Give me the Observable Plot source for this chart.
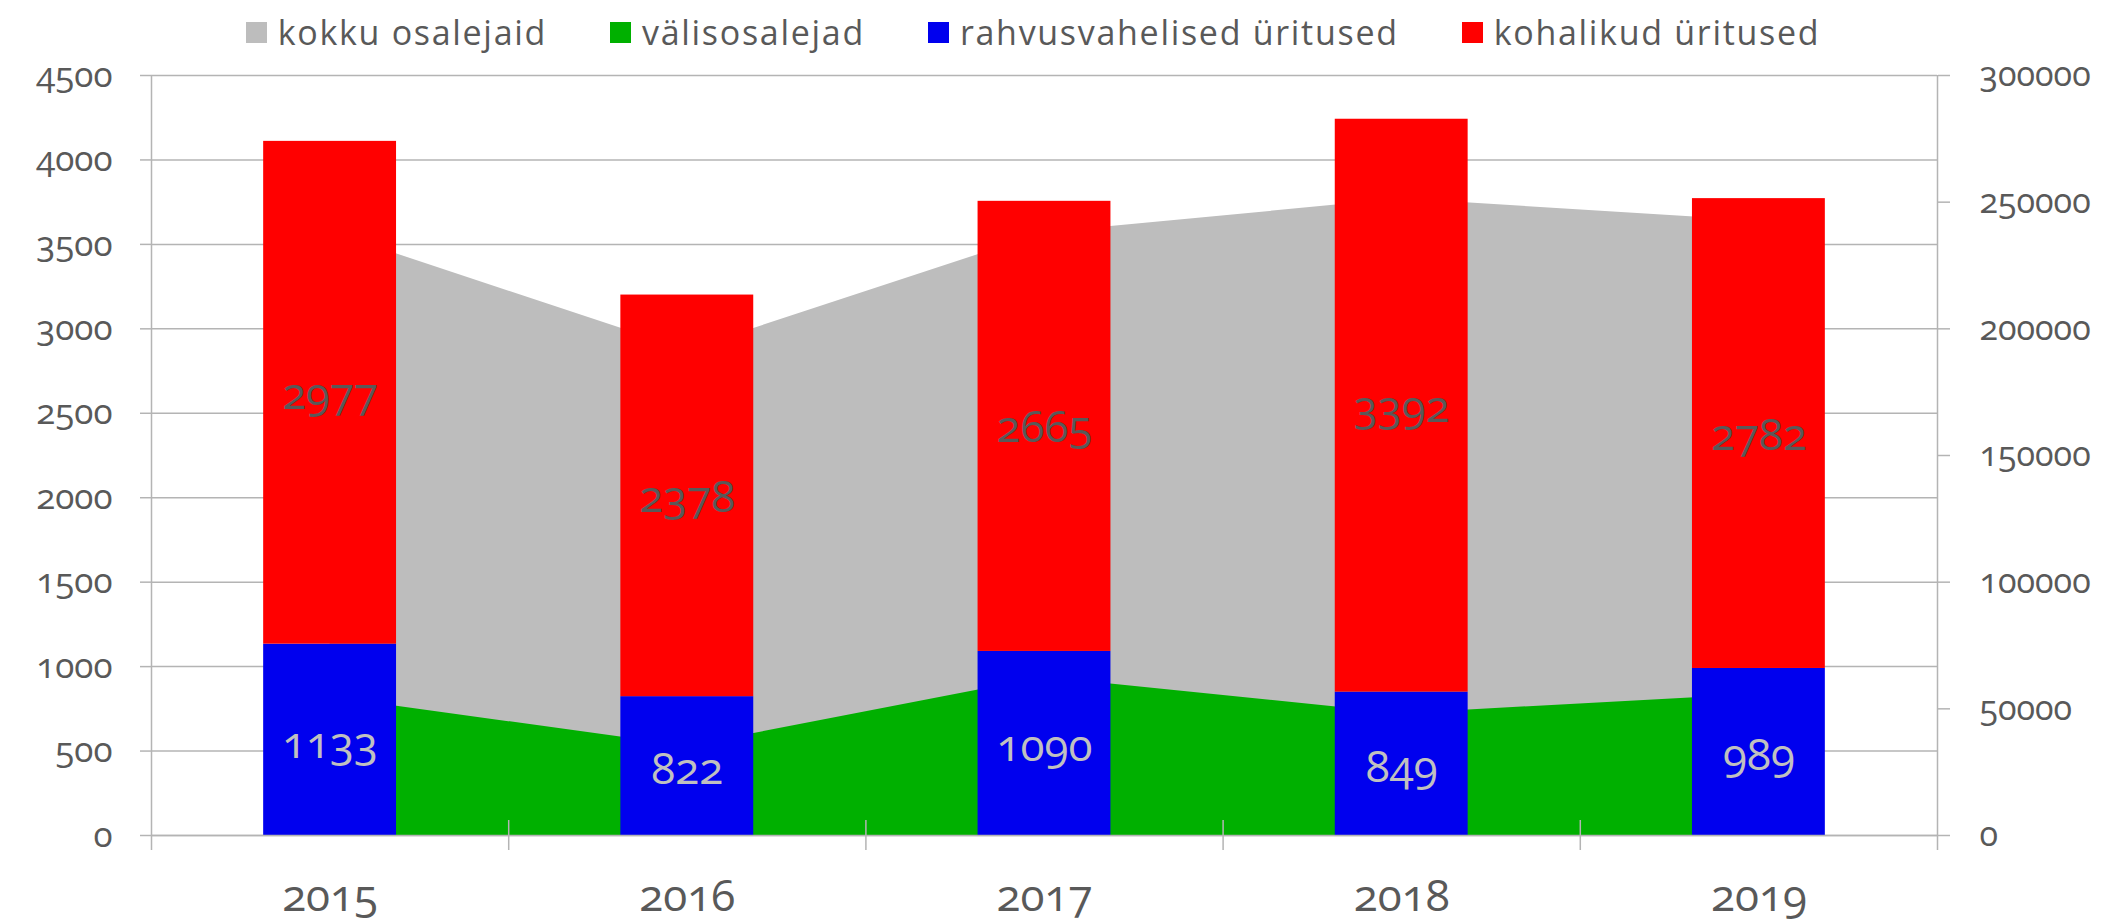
<!DOCTYPE html>
<html>
<head>
<meta charset="utf-8">
<script src="https://cdn.jsdelivr.net/npm/d3@7"></script>
<script src="https://cdn.jsdelivr.net/npm/@observablehq/plot@0.6"></script>
<style>
  html, body { margin: 0; padding: 0; background: #fff; }
  body { width: 2126px; height: 923px; overflow: hidden; font-family: "Open Sans", sans-serif; }
  #legend { display: flex; justify-content: center; align-items: center; height: 48px; padding-right: 60px; gap: 63px; color: #595959; font-size: 34px; line-height: 40px; letter-spacing: 1.7px; box-sizing: border-box; padding-top: 16px; }
  .item { display: flex; align-items: center; }
  .sw { width: 21px; height: 21px; margin-right: 11px; display: inline-block; }
  #chart svg { font-variant-numeric: oldstyle-nums; font-feature-settings: "onum" 1; overflow: visible; }
</style>
</head>
<body>
<div id="legend"></div>
<div id="chart"></div>
<script>
const years = ["2015", "2016", "2017", "2018", "2019"];
const rahvusvahelisedUritused = [1133, 822, 1090, 849, 989];
const kohalikudUritused = [2977, 2378, 2665, 3392, 2782];
const kokkuOsalejaid = [238300, 191500, 237900, 251300, 242600];
const valisosalejad = [54700, 35200, 62500, 48100, 55800];
const leftTicks = [0, 500, 1000, 1500, 2000, 2500, 3000, 3500, 4000, 4500];
const rightTicks = [0, 50000, 100000, 150000, 200000, 250000, 300000];
const seriesNames = ["kokku osalejaid", "välisosalejad", "rahvusvahelised üritused", "kohalikud üritused"];
const seriesColors = ["#bdbdbd", "#00b000", "#0000ee", "#ff0000"];

const leftMax = 4500, rightMax = 300000;
const k = leftMax / rightMax; // right axis -> left axis units
const halfBar = 0.186;        // bar half-width as fraction of category step
const gridColor = "#b4b4b4";
const textColor = "#595959";

const data = years.map((year, i) => ({
  i, year,
  rahvus: rahvusvahelisedUritused[i],
  kohalik: kohalikudUritused[i],
  kokku: kokkuOsalejaid[i],
  valis: valisosalejad[i]
}));

// legend
const legend = document.getElementById("legend");
seriesNames.forEach((name, j) => {
  const item = document.createElement("div");
  item.className = "item";
  const sw = document.createElement("span");
  sw.className = "sw";
  sw.style.background = seriesColors[j];
  const t = document.createElement("span");
  t.textContent = name;
  item.appendChild(sw);
  item.appendChild(t);
  legend.appendChild(item);
});

const chart = Plot.plot({
  width: 2126,
  height: 875,
  marginLeft: 151,
  marginRight: 189,
  marginTop: 27,
  marginBottom: 88,
  style: { fontFamily: "Open Sans, sans-serif", color: textColor, background: "#fff" },
  x: { type: "linear", domain: [-0.5, years.length - 0.5], axis: null },
  y: { domain: [0, leftMax], axis: null },
  marks: [
    Plot.gridY(leftTicks, { stroke: gridColor, strokeOpacity: 1, strokeWidth: 1.5 }),
    Plot.areaY(data, { x: "i", y: d => d.kokku * k, fill: seriesColors[0] }),
    Plot.areaY(data, { x: "i", y: d => d.valis * k, fill: seriesColors[1] }),
    Plot.rectY(data, { x1: d => d.i - halfBar, x2: d => d.i + halfBar, y1: 0, y2: d => d.rahvus, fill: seriesColors[2] }),
    Plot.rectY(data, { x1: d => d.i - halfBar, x2: d => d.i + halfBar, y1: d => d.rahvus, y2: d => d.rahvus + d.kohalik, fill: seriesColors[3] }),
    Plot.ruleY([0], { stroke: gridColor, strokeWidth: 1.5 }),
    Plot.ruleX([-0.5, years.length - 0.5], { y1: leftMax, y2: 0, insetBottom: -15, stroke: gridColor, strokeWidth: 1.5 }),
    Plot.ruleX(d3.range(0.5, years.length - 0.5, 1), { y1: 0, y2: 0, insetTop: -15, insetBottom: -15, stroke: gridColor, strokeWidth: 1.5 }),
    Plot.axisY(leftTicks, { anchor: "left", tickSize: 11, tickPadding: 28, stroke: gridColor, strokeWidth: 1.5, fill: textColor, fontSize: 35, label: null, tickFormat: d => String(d) }),
    Plot.axisY(rightTicks.map(v => v * k), { anchor: "right", tickSize: 12, tickPadding: 30, stroke: gridColor, strokeWidth: 1.5, fill: textColor, fontSize: 34, label: null, tickFormat: d => String(Math.round(d / k)) }),
    Plot.text(data, { x: "i", y: 0, text: "year", dy: 75, lineAnchor: "bottom", fontSize: 44, fill: textColor }),
    Plot.text(data, { x: "i", y: d => d.rahvus + d.kohalik / 2, text: d => String(d.kohalik), dy: 16, lineAnchor: "bottom", fontSize: 44, fill: textColor }),
    Plot.text(data, { x: "i", y: d => d.rahvus / 2, text: d => String(d.rahvus), dy: 18, lineAnchor: "bottom", fontSize: 44, fill: "#c0c0c0" })
  ]
});
document.getElementById("chart").appendChild(chart);
</script>
</body>
</html>
